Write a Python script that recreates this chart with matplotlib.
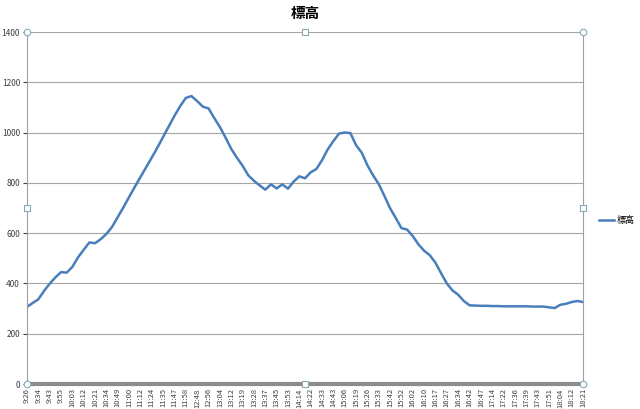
import matplotlib
matplotlib.use("Agg")
import matplotlib.pyplot as plt
import numpy as np

plt.rcParams['font.family'] = ['Noto Sans CJK JP', 'DejaVu Sans']

# labels shown on the category axis (every 2nd sample)
time_labels = ["9:26", "9:34", "9:43", "9:55", "10:03", "10:12", "10:21", "10:34", "10:49", "11:00",
               "11:12", "11:24", "11:35", "11:47", "11:58", "12:48", "12:56", "13:04", "13:12", "13:19",
               "13:28", "13:37", "13:45", "13:53", "14:14", "14:22", "14:33", "14:43", "15:06", "15:19",
               "15:26", "15:33", "15:42", "15:52", "16:02", "16:10", "16:17", "16:27", "16:34", "16:42",
               "16:47", "17:14", "17:22", "17:36", "17:39", "17:43", "17:51", "18:04", "18:12", "18:21"]

# elevation samples (m)
elevation = [307, 322, 337, 370, 399, 424, 445, 443, 466, 504,
             534, 563, 560, 576, 597, 625, 664, 703, 744, 784,
             823, 862, 901, 941, 983, 1025, 1067, 1105, 1138, 1145,
             1125, 1103, 1096, 1058, 1022, 980, 935, 900, 868, 830,
             808, 790, 773, 794, 778, 794, 777, 805, 826, 818,
             842, 855, 890, 933, 966, 996, 1000, 998, 950, 920,
             870, 830, 795, 748, 699, 660, 620, 614, 588, 555,
             530, 512, 482, 440, 400, 372, 355, 330, 313, 312,
             311, 311, 310, 310, 309, 309, 309, 309, 309, 308,
             308, 308, 305, 302, 315, 319, 326, 330, 326]

series_name = "標高"

fig = plt.figure(figsize=(6.4, 4.09), dpi=100)
ax = fig.add_axes([27/640, 1-384/409, 556/640, 352/409])

x = np.arange(len(elevation))
ax.plot(x, elevation, color='#4a7ebb', linewidth=1.8, label=series_name)

ax.set_xlim(0, len(elevation) - 1)
ax.set_ylim(0, 1400)
ax.set_yticks(range(0, 1401, 200))
ax.set_xticks(x[::2])
ax.set_xticklabels(time_labels, rotation=90, fontsize=5.5, color='#404040')
ax.tick_params(axis='y', labelsize=6, colors='#404040', length=3, width=0.8, pad=2)
ax.tick_params(axis='x', length=0, pad=3)
for t in ax.get_yticklines():
    t.set_color('#a0a0a0')

ax.grid(axis='y', color='#a6a6a6', linewidth=0.8)
ax.set_axisbelow(True)
ax.spines['top'].set_visible(False)
ax.spines['left'].set_color('#a0a0a0')
ax.spines['right'].set_color('#a0a0a0')
ax.spines['right'].set_linewidth(0.8)
ax.spines['bottom'].set_color('#8c8c8c')
ax.spines['bottom'].set_linewidth(3)

# selection handles of the plot area
hx = [0, 1, 0, 1]
hy = [0, 0, 1, 1]
ax.scatter(hx, hy, s=22, facecolor='white', edgecolor='#8aa8b8', linewidth=0.8,
           transform=ax.transAxes, clip_on=False, zorder=5)
ax.scatter([0.5, 0, 1, 0.5], [1, 0.5, 0.5, 0], s=14, marker='s', facecolor='white',
           edgecolor='#8aa8b8', linewidth=0.8, transform=ax.transAxes, clip_on=False, zorder=5)

fig.text(305/640, 1-13/409, series_name, ha='center', va='center', fontsize=10.5, fontweight='bold')

ax.legend(loc='center left', bbox_to_anchor=(1.015, 0.465), frameon=False, fontsize=6.5,
          handlelength=1.6, handletextpad=0.3)

fig.savefig("out.png", dpi=100)
